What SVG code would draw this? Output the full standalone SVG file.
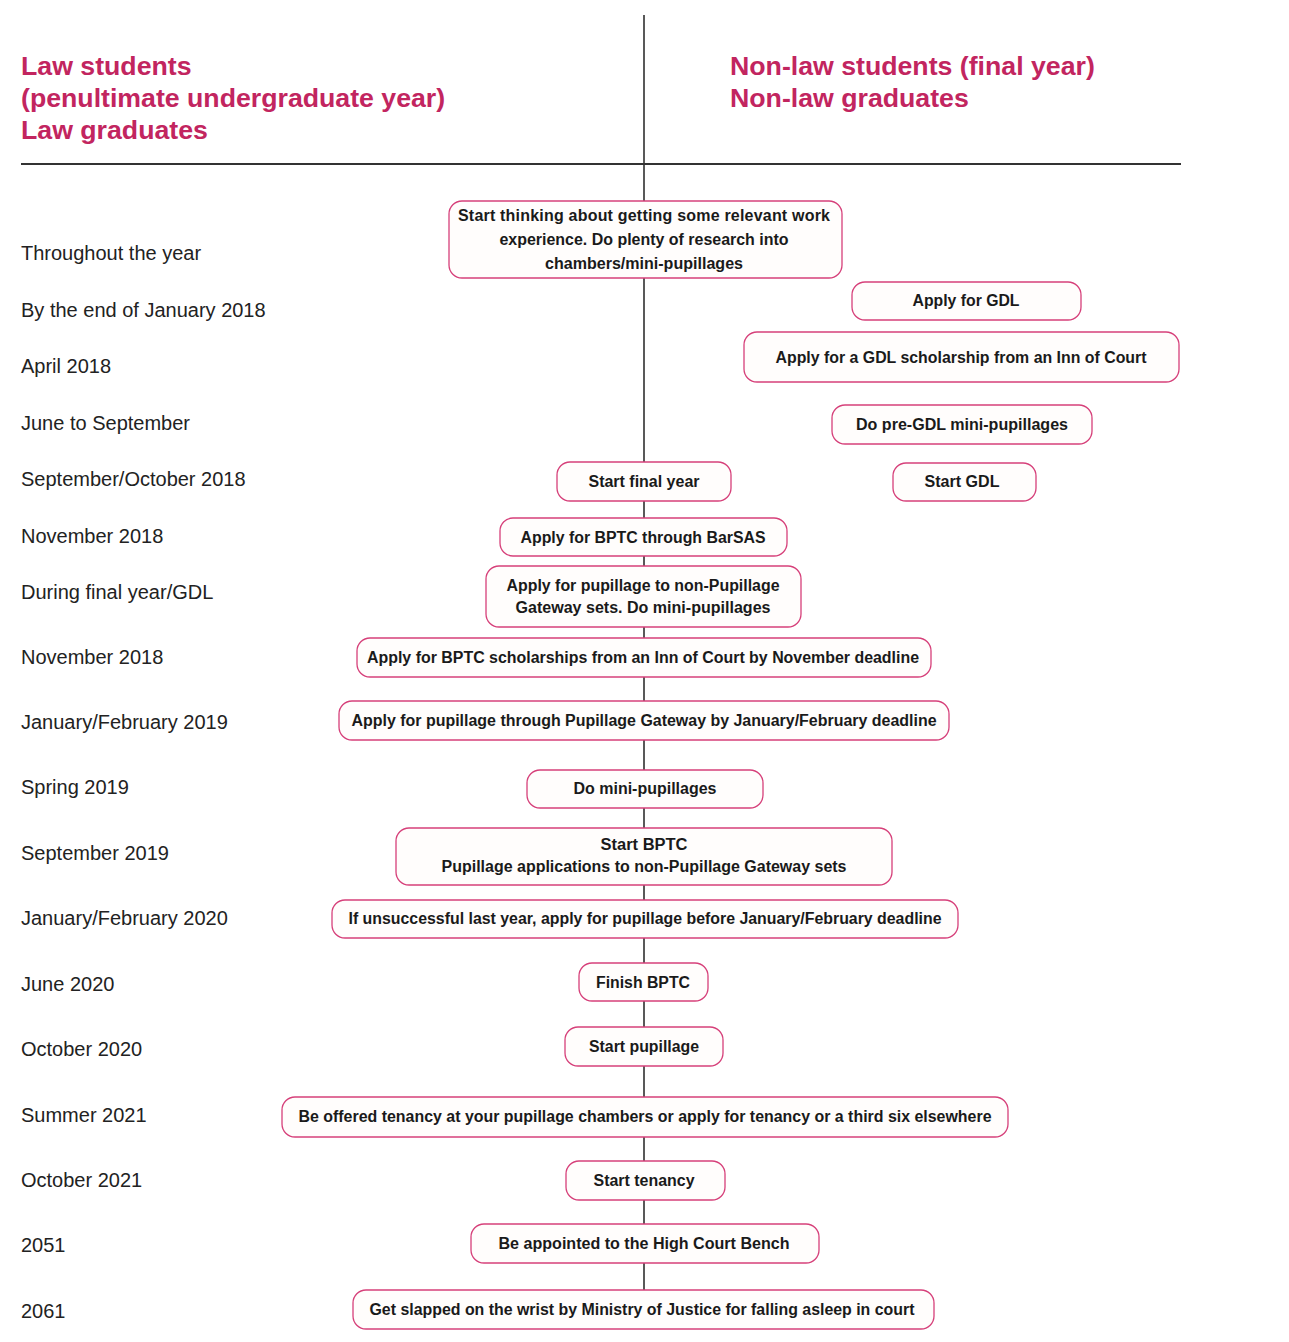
<svg xmlns="http://www.w3.org/2000/svg" width="1289" height="1342" viewBox="0 0 1289 1342">
<style>
.bg{fill:#ffffff}
.head{font-family:"Liberation Sans",Arial,sans-serif;font-size:26.7px;font-weight:bold;fill:#c2255f}
.lbl{font-family:"Liberation Sans",Arial,sans-serif;font-size:20px;fill:#222222}
.box{fill:#fffdfc;stroke:#d6407a;stroke-width:1.3}
.bt{font-family:"Liberation Sans",Arial,sans-serif;font-size:16px;font-weight:bold;fill:#1a1a1a;text-anchor:middle}
.ln{stroke:#222222;stroke-width:1.5;fill:none}
.hl{stroke:#333333;stroke-width:2;fill:none}
</style>
<rect class="bg" x="0" y="0" width="1289" height="1342"/>
<g id="connectors">
<line class="ln" x1="644" y1="15" x2="644" y2="1290"/>
<line class="hl" x1="21" y1="164" x2="1181" y2="164"/>
</g>
<g id="headings">
<text class="head" x="21" y="75">Law students</text>
<text class="head" x="21" y="107">(penultimate undergraduate year)</text>
<text class="head" x="21" y="139">Law graduates</text>
<text class="head" x="730" y="75">Non-law students (final year)</text>
<text class="head" x="730" y="107">Non-law graduates</text>
</g>
<g id="labels">
<text class="lbl" x="21" y="260">Throughout the year</text>
<text class="lbl" x="21" y="317">By the end of January 2018</text>
<text class="lbl" x="21" y="373">April 2018</text>
<text class="lbl" x="21" y="430">June to September</text>
<text class="lbl" x="21" y="486">September/October 2018</text>
<text class="lbl" x="21" y="543">November 2018</text>
<text class="lbl" x="21" y="599">During final year/GDL</text>
<text class="lbl" x="21" y="664">November 2018</text>
<text class="lbl" x="21" y="729">January/February 2019</text>
<text class="lbl" x="21" y="794">Spring 2019</text>
<text class="lbl" x="21" y="860">September 2019</text>
<text class="lbl" x="21" y="925">January/February 2020</text>
<text class="lbl" x="21" y="991">June 2020</text>
<text class="lbl" x="21" y="1056">October 2020</text>
<text class="lbl" x="21" y="1122">Summer 2021</text>
<text class="lbl" x="21" y="1187">October 2021</text>
<text class="lbl" x="21" y="1252">2051</text>
<text class="lbl" x="21" y="1318">2061</text>
</g>
<g id="n1"><rect class="box" x="449" y="201" width="393" height="77" rx="13"/>
<text class="bt" x="644" y="221" textLength="372" lengthAdjust="spacing">Start thinking about getting some relevant work</text>
<text class="bt" x="644" y="245" textLength="289" lengthAdjust="spacingAndGlyphs">experience. Do plenty of research into</text>
<text class="bt" x="644" y="269" textLength="198" lengthAdjust="spacingAndGlyphs">chambers/mini-pupillages</text></g>
<g id="n2"><rect class="box" x="852" y="282" width="229" height="38" rx="13"/>
<text class="bt" x="966" y="306" textLength="107" lengthAdjust="spacingAndGlyphs">Apply for GDL</text></g>
<g id="n3"><rect class="box" x="744" y="332" width="435" height="50" rx="13"/>
<text class="bt" x="961" y="363" textLength="371" lengthAdjust="spacingAndGlyphs">Apply for a GDL scholarship from an Inn of Court</text></g>
<g id="n4"><rect class="box" x="832" y="405" width="260" height="39" rx="13"/>
<text class="bt" x="962" y="430" textLength="212" lengthAdjust="spacingAndGlyphs">Do pre-GDL mini-pupillages</text></g>
<g id="n5"><rect class="box" x="893" y="463" width="143" height="38" rx="13"/>
<text class="bt" x="962" y="487" textLength="75" lengthAdjust="spacingAndGlyphs">Start GDL</text></g>
<g id="n6"><rect class="box" x="557" y="462" width="174" height="39" rx="13"/>
<text class="bt" x="644" y="487" textLength="111" lengthAdjust="spacingAndGlyphs">Start final year</text></g>
<g id="n7"><rect class="box" x="500" y="518" width="287" height="38" rx="13"/>
<text class="bt" x="643" y="543" textLength="245" lengthAdjust="spacingAndGlyphs">Apply for BPTC through BarSAS</text></g>
<g id="n8"><rect class="box" x="486" y="566" width="315" height="61" rx="13"/>
<text class="bt" x="643" y="591" textLength="273" lengthAdjust="spacingAndGlyphs">Apply for pupillage to non-Pupillage</text>
<text class="bt" x="643" y="613" textLength="255" lengthAdjust="spacingAndGlyphs">Gateway sets. Do mini-pupillages</text></g>
<g id="n9"><rect class="box" x="357" y="638" width="574" height="39" rx="13"/>
<text class="bt" x="643" y="663" textLength="552" lengthAdjust="spacingAndGlyphs">Apply for BPTC scholarships from an Inn of Court by November deadline</text></g>
<g id="n10"><rect class="box" x="339" y="701" width="610" height="39" rx="13"/>
<text class="bt" x="644" y="726" textLength="585" lengthAdjust="spacingAndGlyphs">Apply for pupillage through Pupillage Gateway by January/February deadline</text></g>
<g id="n11"><rect class="box" x="527" y="770" width="236" height="38" rx="13"/>
<text class="bt" x="645" y="794" textLength="143" lengthAdjust="spacingAndGlyphs">Do mini-pupillages</text></g>
<g id="n12"><rect class="box" x="396" y="828" width="496" height="57" rx="13"/>
<text class="bt" x="644" y="850" textLength="87" lengthAdjust="spacingAndGlyphs">Start BPTC</text>
<text class="bt" x="644" y="872" textLength="405" lengthAdjust="spacingAndGlyphs">Pupillage applications to non-Pupillage Gateway sets</text></g>
<g id="n13"><rect class="box" x="332" y="900" width="626" height="38" rx="13"/>
<text class="bt" x="645" y="924" textLength="593" lengthAdjust="spacingAndGlyphs">If unsuccessful last year, apply for pupillage before January/February deadline</text></g>
<g id="n14"><rect class="box" x="579" y="963" width="129" height="38" rx="13"/>
<text class="bt" x="643" y="988" textLength="94" lengthAdjust="spacingAndGlyphs">Finish BPTC</text></g>
<g id="n15"><rect class="box" x="565" y="1027" width="158" height="39" rx="13"/>
<text class="bt" x="644" y="1052" textLength="110" lengthAdjust="spacingAndGlyphs">Start pupillage</text></g>
<g id="n16"><rect class="box" x="282" y="1097" width="726" height="40" rx="13"/>
<text class="bt" x="645" y="1122" textLength="693" lengthAdjust="spacingAndGlyphs">Be offered tenancy at your pupillage chambers or apply for tenancy or a third six elsewhere</text></g>
<g id="n17"><rect class="box" x="566" y="1161" width="159" height="39" rx="13"/>
<text class="bt" x="644" y="1186" textLength="101" lengthAdjust="spacingAndGlyphs">Start tenancy</text></g>
<g id="n18"><rect class="box" x="471" y="1224" width="348" height="39" rx="13"/>
<text class="bt" x="644" y="1249" textLength="291" lengthAdjust="spacingAndGlyphs">Be appointed to the High Court Bench</text></g>
<g id="n19"><rect class="box" x="353" y="1290" width="581" height="39" rx="13"/>
<text class="bt" x="642" y="1315" textLength="545" lengthAdjust="spacingAndGlyphs">Get slapped on the wrist by Ministry of Justice for falling asleep in court</text></g>
</svg>
